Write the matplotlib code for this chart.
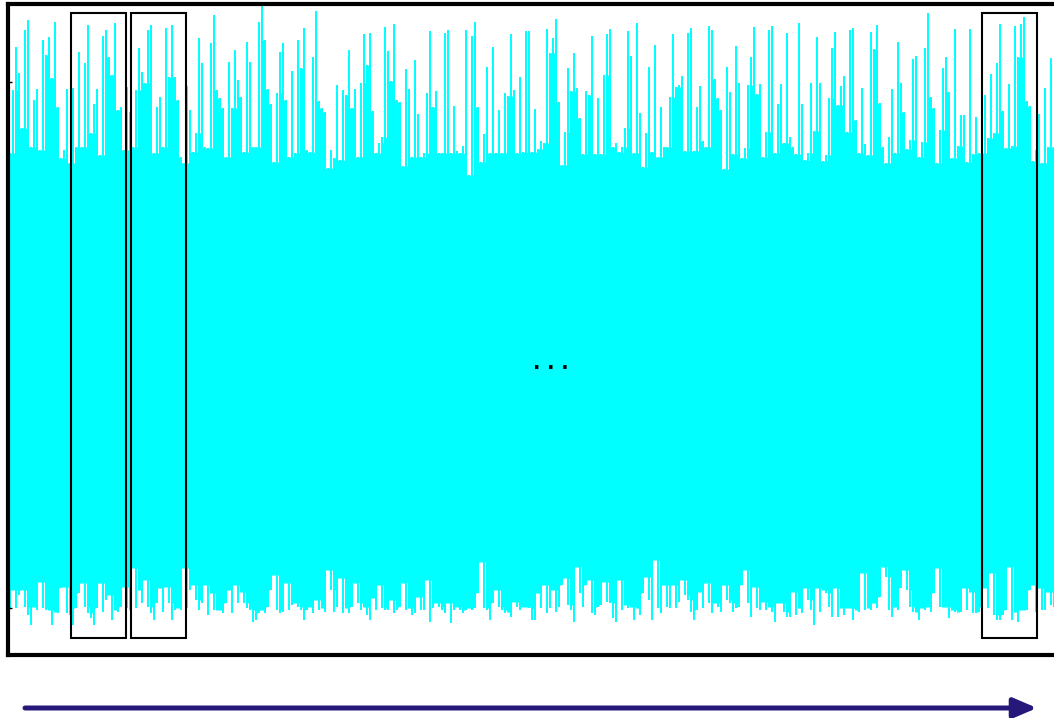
import numpy as np
import matplotlib
matplotlib.use('Agg')
import matplotlib.pyplot as plt
from matplotlib.patches import Rectangle

# Signal envelope (raw amplitude units, one value per sample)
upper_a = [192, 255, 298, 272, 217, 315, 325, 198, 245, 256, 195, 305, 290, 308, 267, 323, 238, 187, 195, 256,
           182, 257, 198, 293, 198, 282, 320, 212, 241, 256, 190, 309, 315, 288, 270, 322, 235, 238, 195, 258,
           233, 198, 255, 297, 273, 262, 315, 320, 192, 238, 248, 198, 317, 268, 320, 268, 245, 188, 182, 259,
           235, 193, 212, 307, 282, 198, 197, 302, 330, 255, 247, 237, 188, 283, 237, 295, 265, 248, 193, 303,
           283, 198, 198, 323]
upper_b = [340, 305, 256, 241, 183, 252, 293, 302, 245, 188, 274, 192, 305, 277, 317, 195, 193, 288, 334, 244,
           237, 233, 177, 195, 187, 260, 185, 255, 250, 295, 237, 256, 188, 262, 311, 280, 312, 234, 192, 202,
           208, 318, 294, 264, 321, 245, 243, 179, 276, 256, 188, 285, 231, 188, 192, 252, 314, 238, 254, 192,
           192, 312, 315, 192, 239, 194, 192, 199, 315, 170, 309, 323, 238, 183, 211, 278, 192, 298, 192, 235,
           192, 252, 249, 311, 255, 192, 268]
upper_c = [193, 314, 314, 193, 236, 196, 204, 202, 316, 292, 307, 326, 243, 180, 213, 277, 254, 292, 257, 227,
           191, 254, 250, 309, 191, 247, 191, 270, 311, 316, 198, 202, 193, 198, 217, 314, 289, 192, 322, 232,
           178, 212, 278, 193, 300, 188, 238, 198, 198, 248, 311, 258, 260, 269, 194, 312, 317, 194, 238, 259,
           204, 198, 319, 315, 266, 247, 235, 176, 278, 253, 191, 299, 262, 187, 197, 260, 288, 318, 251, 261,
           188, 213, 315, 319, 192, 241, 261, 202]
upper_d = [312, 208, 198, 191, 322, 241, 185, 192, 262, 214, 308, 262, 184, 190, 247, 297, 313, 240, 259, 269,
           213, 315, 317, 225, 192, 257, 201, 190, 313, 296, 320, 242, 198, 182, 208, 256, 192, 303, 262, 233,
           196, 205, 286, 289, 188, 203, 297, 332, 248, 237, 182, 215, 277, 288, 253, 187, 316, 199, 230, 230,
           183, 316, 191, 228, 192, 192, 250, 207, 271, 212, 282, 321, 234, 197, 261, 199, 319, 288, 321, 328,
           244, 239, 184, 195, 231, 182, 257, 198, 287, 198]

lower_a = [-263, -245, -263, -250, -245, -262, -270, -280, -262, -265, -237, -263, -265, -265, -280, -267, -268,
           -243, -242, -268, -270, -280, -263, -248, -238, -262, -268, -273, -280, -263, -238, -267, -255, -250,
           -275, -265, -267, -262, -242, -263, -265, -223, -263, -245, -258, -235, -262, -268, -275, -258, -243,
           -267, -242, -258, -275, -265, -263, -265, -223, -263, -245, -240, -255, -265, -258, -240, -270, -248,
           -265, -265, -265, -268, -258, -245, -268, -240, -258, -247, -258, -263, -265, -277, -275, -268]
lower_b = [-265, -268, -262, -245, -230, -265, -268, -267, -238, -265, -260, -258, -262, -265, -275, -265, -262,
           -268, -255, -265, -263, -267, -225, -245, -267, -262, -233, -268, -263, -268, -262, -238, -258, -265,
           -262, -270, -275, -253, -265, -240, -263, -265, -265, -255, -268, -265, -262, -238, -265, -263, -270,
           -268, -252, -265, -265, -235, -277, -263, -258, -262, -265, -268, -258, -278, -265, -262, -265, -268,
           -265, -263, -265, -263, -248, -217, -263, -265, -275, -258, -245, -262, -265, -268, -267, -272, -257,
           -262, -265]
lower_c = [-262, -262, -263, -275, -275, -248, -263, -240, -268, -263, -245, -267, -262, -240, -233, -260, -265,
           -277, -222, -248, -262, -240, -235, -268, -270, -262, -260, -237, -257, -258, -273, -277, -235, -265,
           -260, -263, -262, -275, -263, -270, -248, -232, -255, -275, -215, -263, -268, -240, -262, -263, -240,
           -263, -257, -235, -250, -255, -267, -275, -265, -247, -263, -238, -258, -268, -258, -262, -267, -240,
           -255, -258, -267, -263, -262, -240, -225, -258, -272, -242, -263, -265, -257, -265, -262, -267, -277,
           -258, -258, -267]
lower_d = [-272, -272, -247, -270, -263, -268, -243, -255, -265, -280, -243, -267, -245, -248, -262, -272, -243,
           -272, -263, -270, -263, -263, -275, -265, -267, -228, -265, -263, -265, -258, -263, -252, -222, -232,
           -265, -272, -262, -265, -243, -225, -245, -262, -267, -267, -275, -263, -265, -262, -267, -248, -223,
           -262, -262, -262, -273, -265, -267, -267, -267, -243, -265, -247, -268, -268, -267, -262, -243, -263,
           -228, -270, -275, -275, -270, -265, -222, -275, -267, -277, -265, -265, -265, -245, -240, -267, -243,
           -265, -265, -247, -260, -262]

# highlighted windows (start sample, length in samples)
window_starts = [20.3, 40.3, 323.9]
window_len = 18.3


def plot_signal():
    upper = np.array(upper_a + upper_b + upper_c + upper_d)
    lower = np.array(lower_a + lower_b + lower_c + lower_d)
    samples = np.arange(len(upper))

    # solid body of the trace: each sample only fills up to its neighbours' level
    core_hi = np.minimum.reduce([upper, np.roll(upper, 1), np.roll(upper, -1)])
    core_lo = np.maximum.reduce([lower, np.roll(lower, 1), np.roll(lower, -1)])

    fig = plt.figure(figsize=(10.54, 7.18), dpi=100)
    ax = fig.add_axes([0.0076, 0.0877, 0.9981, 0.9071])

    ax.fill_between(samples, core_lo, core_hi, step='mid', color='#00ffff', lw=0)
    ax.bar(samples, upper - lower, bottom=lower, width=0.65, color='#00ffff', lw=0)

    # windows
    for start in window_starts:
        ax.add_patch(Rectangle((start, -293), window_len, 625, fill=False,
                               edgecolor='black', lw=1.5, zorder=3))

    ax.text(180.3, -24, '. . .', ha='center', va='baseline', fontsize=14,
            fontweight='bold', color='black')

    ax.set_xlim(-0.667, 350)
    ax.set_ylim(-310, 341.3)
    ax.set_xticks([])
    ax.set_yticks([-263, 263])
    ax.set_yticklabels([])
    ax.tick_params(axis='y', direction='in', length=3, width=1)
    for s in ax.spines.values():
        s.set_linewidth(3)

    # time arrow under the plot
    ax.annotate('', xy=(1037, 10), xytext=(25, 10), xycoords='figure pixels',
                textcoords='figure pixels', annotation_clip=False,
                arrowprops=dict(arrowstyle='-|>,head_length=1.4,head_width=0.6',
                                color='#25187a', lw=3.6, shrinkA=0, shrinkB=0))

    fig.savefig('out.png', dpi=100)


if __name__ == "__main__":
    plot_signal()
